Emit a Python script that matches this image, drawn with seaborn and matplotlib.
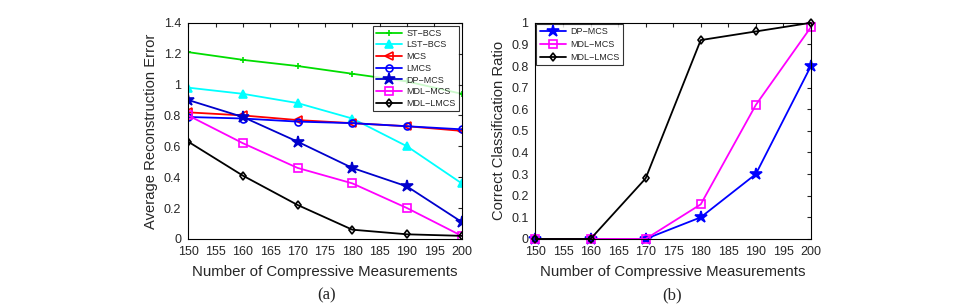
import numpy as np
import pandas as pd
import matplotlib
matplotlib.use("Agg")
import matplotlib.pyplot as plt
import seaborn as sns

# 數據
measurements = [150, 160, 170, 180, 190, 200]

err_st_bcs = [1.21, 1.16, 1.12, 1.07, 1.02, 0.94]
err_lst_bcs = [0.98, 0.94, 0.88, 0.78, 0.60, 0.36]
err_mcs = [0.82, 0.80, 0.77, 0.75, 0.73, 0.70]
err_lmcs = [0.79, 0.78, 0.76, 0.75, 0.73, 0.71]
err_dp_mcs = [0.90, 0.79, 0.63, 0.46, 0.34, 0.11]
err_mdl_mcs = [0.80, 0.62, 0.46, 0.36, 0.20, 0.02]
err_mdl_lmcs = [0.63, 0.41, 0.22, 0.06, 0.03, 0.02]

ccr_dp_mcs = [0.0, 0.0, 0.0, 0.10, 0.30, 0.80]
ccr_mdl_mcs = [0.0, 0.0, 0.0, 0.16, 0.62, 0.98]
ccr_mdl_lmcs = [0.0, 0.0, 0.28, 0.92, 0.96, 1.0]

sns.set_style("white")
plt.rcParams["font.family"] = ["Liberation Sans", "DejaVu Sans"]

fig = plt.figure(figsize=(9.7, 3.04), dpi=100)
ax1 = fig.add_axes([0.194, 0.214, 0.282, 0.711])
ax2 = fig.add_axes([0.552, 0.214, 0.284, 0.711])

styles_a = [
    ("ST\u2212BCS", err_st_bcs, "#00dd00", "+", 5, "none"),
    ("LST\u2212BCS", err_lst_bcs, "#00ffff", "^", 6, "full"),
    ("MCS", err_mcs, "#ff0000", "<", 6, "none"),
    ("LMCS", err_lmcs, "#0000ff", "o", 5, "none"),
    ("DP\u2212MCS", err_dp_mcs, "#0000cc", "*", 9, "full"),
    ("MDL\u2212MCS", err_mdl_mcs, "#ff00ff", "s", 5.5, "none"),
    ("MDL\u2212LMCS", err_mdl_lmcs, "#000000", "d", 4.5, "none"),
]

for name, vals, col, mk, ms, fill in styles_a:
    df = pd.DataFrame({"x": measurements, "y": vals})
    sns.lineplot(data=df, x="x", y="y", ax=ax1, color=col, marker=mk,
                 markersize=ms, markerfacecolor=(col if fill == "full" else "none"),
                 markeredgecolor=col, markeredgewidth=1.2, linewidth=1.3, label=name)

styles_b = [
    ("DP\u2212MCS", ccr_dp_mcs, "#0000ff", "*", 9, "full"),
    ("MDL\u2212MCS", ccr_mdl_mcs, "#ff00ff", "s", 5.5, "none"),
    ("MDL\u2212LMCS", ccr_mdl_lmcs, "#000000", "d", 4.5, "none"),
]

for name, vals, col, mk, ms, fill in styles_b:
    df = pd.DataFrame({"x": measurements, "y": vals})
    sns.lineplot(data=df, x="x", y="y", ax=ax2, color=col, marker=mk,
                 markersize=ms, markerfacecolor=(col if fill == "full" else "none"),
                 markeredgecolor=col, markeredgewidth=1.2, linewidth=1.3, label=name,
                 clip_on=False)

for ax in (ax1, ax2):
    ax.set_xlim(150, 200)
    ax.set_xticks(np.arange(150, 201, 5))
    ax.tick_params(direction="in", top=True, right=True, length=3, labelsize=9, pad=5)
    ax.set_xlabel("Number of Compressive Measurements", fontsize=10.8, labelpad=5)
    for sp in ax.spines.values():
        sp.set_color("black")
        sp.set_linewidth(0.8)

ax1.set_ylim(0, 1.4)
ax1.set_yticks([0, 0.2, 0.4, 0.6, 0.8, 1.0, 1.2, 1.4])
ax1.set_yticklabels(["0", "0.2", "0.4", "0.6", "0.8", "1", "1.2", "1.4"])
ax1.set_ylabel("Average Reconstruction Error", fontsize=10.6)

ax2.set_ylim(0, 1)
ax2.set_yticks(np.arange(0, 1.01, 0.1))
ax2.set_yticklabels(["0", "0.1", "0.2", "0.3", "0.4", "0.5", "0.6", "0.7", "0.8", "0.9", "1"])
ax2.set_ylabel("Correct Classification Ratio", fontsize=10.6)

leg1 = ax1.legend(loc="upper right", fontsize=6.5, frameon=True, fancybox=False,
                  edgecolor="black", borderpad=0.35, labelspacing=0.3,
                  handlelength=2.9, handletextpad=0.5, borderaxespad=0.3)
leg1.get_frame().set_linewidth(0.8)
leg2 = ax2.legend(loc="upper left", fontsize=6.5, frameon=True, fancybox=False,
                  edgecolor="black", borderpad=0.35, labelspacing=0.45,
                  handlelength=2.9, handletextpad=0.5, borderaxespad=0.1)
leg2.get_frame().set_linewidth(0.8)

fig.text(0.337, 0.015, "(a)", fontsize=12, family="Liberation Serif", ha="center")
fig.text(0.693, 0.015, "(b)", fontsize=12, family="Liberation Serif", ha="center")

fig.savefig("out.png", dpi=100)
